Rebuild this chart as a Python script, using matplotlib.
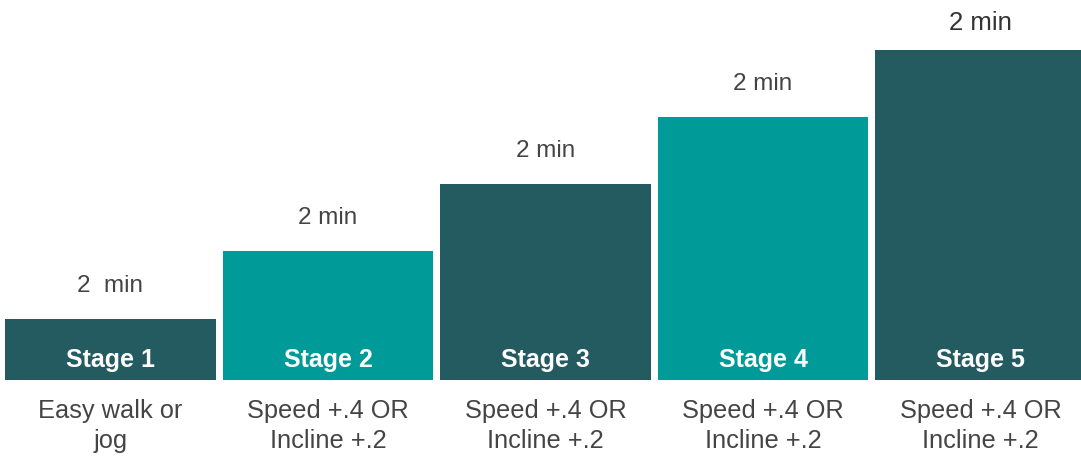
import matplotlib.pyplot as plt

stages = ['Stage 1', 'Stage 2', 'Stage 3', 'Stage 4', 'Stage 5']
heights = [61, 129, 196, 263, 330]
top_labels = ['2  min', '2 min', '2 min', '2 min', '2 min']
notes = ['Easy walk or\njog', 'Speed +.4 OR\nIncline +.2', 'Speed +.4 OR\nIncline +.2',
         'Speed +.4 OR\nIncline +.2', 'Speed +.4 OR\nIncline +.2']
colors = ['#235b61', '#009b98', '#235b61', '#009b98', '#235b61']

plt.rcParams['font.family'] = ['Liberation Sans', 'DejaVu Sans']

fig = plt.figure(figsize=(10.81, 4.57), dpi=100)
ax = fig.add_axes([0, 0, 1, 1])

x = list(range(len(stages)))
ax.bar(x, heights, width=0.97, color=colors)

for i in x:
    big = (i == len(stages) - 1)
    ax.text(i, heights[i] + (27 if big else 33), top_labels[i], ha='center', va='center',
            fontsize=18.5 if big else 17.5, color='#333333' if big else '#444444')
    ax.text(i, 20.5, stages[i], ha='center', va='center', fontsize=18,
            fontweight='bold', color='white')
    ax.text(i, -46, notes[i], ha='center', va='center', fontsize=18.3,
            color='#444444', linespacing=1.3)

ax.set_xlim(-0.508, 4.462)
ax.set_ylim(-77, 380)
ax.axis('off')

fig.savefig('out.png', dpi=100)
